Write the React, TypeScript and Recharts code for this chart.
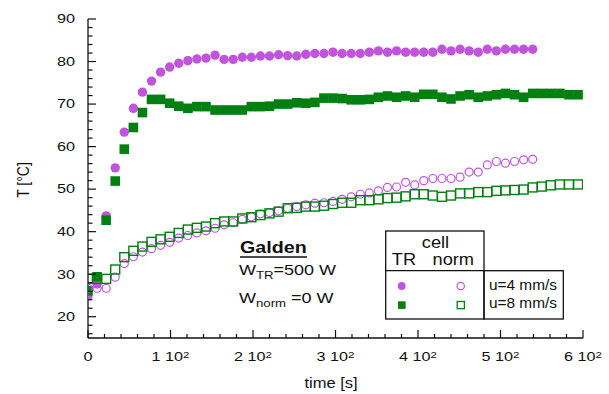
import React from "react";
import { ScatterChart, Scatter, XAxis, YAxis } from "recharts";

// sampling times [s]
const TIME_A = [
  0, 11, 22, 33, 44, 55, 66, 77, 88, 99, 110, 121, 132, 143, 154, 165, 176,
  187, 198, 209, 220, 231, 242, 253, 264, 275, 286, 297, 308, 319, 330, 341,
  352, 363, 374, 385, 396, 407, 418, 429, 440, 451, 462, 473, 484, 495, 506,
  517, 528, 539,
];
const TIME_B = [...TIME_A, 550, 561, 572, 583, 594];

// T [°C], cell TR
const TR_U4 = [
  24.9, 27.7, 43.7, 55.0, 63.4, 69.0, 72.8, 75.4, 77.5, 78.7,
  79.6, 80.2, 80.6, 80.8, 81.5, 80.5, 80.5, 81.0, 81.0, 81.3,
  81.3, 81.6, 81.4, 81.3, 81.7, 81.9, 81.9, 82.2, 81.9, 81.9,
  81.9, 82.2, 82.5, 82.2, 82.5, 82.2, 82.2, 82.2, 82.2, 82.9,
  82.5, 82.9, 82.5, 82.2, 82.9, 82.5, 82.9, 82.9, 82.9, 82.9,
];
const TR_U8 = [
  26.1, 29.4, 42.7, 51.9, 59.4, 64.5, 68.0, 71.1, 71.1, 70.2,
  69.5, 69.0, 69.4, 69.4, 68.6, 68.6, 68.6, 68.6, 69.4, 69.4,
  69.5, 70.0, 70.0, 70.3, 70.2, 70.4, 71.4, 71.4, 71.3, 71.0,
  71.0, 71.1, 71.6, 71.9, 71.6, 71.9, 71.6, 72.3, 72.3, 71.6,
  71.2, 71.9, 72.2, 71.6, 71.9, 72.2, 72.5, 72.2, 71.6, 72.5,
  72.5, 72.5, 72.5, 72.2, 72.2,
];
// T [°C], cell norm
const NORM_U4 = [
  26.7, 26.7, 26.7, 29.3, 32.5, 34.1, 35.2, 36.0, 36.8, 37.5,
  38.5, 39.1, 39.7, 40.2, 40.8, 41.6, 42.1, 42.9, 43.5, 44.2,
  44.5, 44.9, 45.5, 45.9, 46.3, 46.7, 46.8, 47.1, 47.6, 48.2,
  48.8, 49.1, 49.6, 50.4, 50.5, 51.6, 51.0, 52.0, 52.5, 52.5,
  52.5, 52.8, 54.0, 54.0, 55.7, 56.5, 56.1, 56.5, 56.9, 57.0,
];
const NORM_U8 = [
  28.9, 28.9, 28.9, 31.1, 34.0, 35.5, 36.5, 37.6, 38.2, 38.8,
  39.7, 40.5, 40.9, 41.2, 42.0, 42.4, 42.4, 43.1, 43.4, 43.9,
  44.3, 44.7, 45.5, 45.6, 45.9, 45.9, 46.1, 46.5, 46.8, 46.8,
  47.4, 47.4, 47.6, 47.9, 48.0, 48.3, 48.8, 48.8, 48.5, 48.2,
  48.5, 49.0, 49.0, 49.3, 49.3, 49.6, 49.7, 49.8, 49.9, 50.4,
  50.6, 50.9, 51.1, 51.1, 51.1,
];

const X_TICKS = [
  0, 20, 40, 60, 80, 100, 120, 140, 160, 180, 200, 220, 240, 260, 280, 300,
  320, 340, 360, 380, 400, 420, 440, 460, 480, 500, 520, 540, 560, 580, 600,
];
const Y_TICKS = [
  16, 18, 20, 22, 24, 26, 28, 30, 32, 34, 36, 38, 40, 42, 44, 46, 48, 50, 52,
  54, 56, 58, 60, 62, 64, 66, 68, 70, 72, 74, 76, 78, 80, 82, 84, 86, 88, 90,
];

const PURPLE = "#c054dc";
const GREEN = "#008010";
const FONT = "'Liberation Sans', Arial, Helvetica, sans-serif";
const SX = 1.35; // the original is stretched sideways

const rows = (ts: number[], vs: number[]) => vs.map((v, i) => ({ t: ts[i], T: v }));

const BottomTick = (p: any) => {
  const v = p.payload.value;
  const major = v % 100 === 0;
  return (
    <g>
      <line x1={p.x} x2={p.x} y1={p.y} y2={p.y - (major ? 8 : 4)} stroke="#111" strokeWidth={1.2} />
      {major && (
        <g transform={`translate(${p.x},${p.y + 23}) scale(${SX},1)`}>
          <text textAnchor="middle" fontFamily={FONT} fontSize={12} fill="#111">
            {v === 0 ? (
              "0"
            ) : (
              <>
                {`${v / 100} 10`}
                <tspan fontSize={8.5} dy={-3.5}>2</tspan>
              </>
            )}
          </text>
        </g>
      )}
    </g>
  );
};

const TopTick = (p: any) => {
  const major = p.payload.value % 100 === 0;
  return <line x1={p.x} x2={p.x} y1={p.y} y2={p.y + (major ? 8 : 4)} stroke="#111" strokeWidth={1.2} />;
};

const LeftTick = (p: any) => {
  const v = p.payload.value;
  const major = v % 10 === 0;
  return (
    <g>
      <line x1={p.x} x2={p.x + (major ? 8 : 4.5)} y1={p.y} y2={p.y} stroke="#111" strokeWidth={1.2} />
      {major && (
        <g transform={`translate(${p.x - 13},${p.y + 4.3}) scale(${SX},1)`}>
          <text textAnchor="end" fontFamily={FONT} fontSize={12} fill="#111">{v}</text>
        </g>
      )}
    </g>
  );
};

const RightTick = (p: any) => {
  const major = p.payload.value % 10 === 0;
  return <line x1={p.x} x2={p.x - (major ? 8 : 4.5)} y1={p.y} y2={p.y} stroke="#111" strokeWidth={1.2} />;
};

const FilledCircle = (p: any) => <circle cx={p.cx} cy={p.cy} r={4.7} fill={PURPLE} />;
const FilledSquare = (p: any) => <rect x={p.cx - 4.8} y={p.cy - 4.8} width={9.6} height={9.6} fill={GREEN} />;
const OpenCircle = (p: any) => (
  <circle cx={p.cx} cy={p.cy} r={4} fill="none" stroke={PURPLE} strokeWidth={1.2} />
);
const OpenSquare = (p: any) => (
  <rect x={p.cx - 4.5} y={p.cy - 4.5} width={9} height={9} fill="none" stroke={GREEN} strokeWidth={1.4} />
);

function Annotations() {
  const t = (x: number, y: number, s = 1.2) => `translate(${x},${y}) scale(${s},1)`;
  return (
    <svg
      width={609}
      height={394}
      style={{ position: "absolute", left: 0, top: 0, pointerEvents: "none" }}
      fontFamily={FONT}
      fill="#111"
    >
      {/* axis titles */}
      <g transform={`translate(29,180) scale(1.2,1) rotate(-90)`}>
        <text textAnchor="middle" fontSize={14}>T [°C]</text>
      </g>
      <g transform={t(331, 388, 1.18)}>
        <text textAnchor="middle" fontSize={14}>time [s]</text>
      </g>

      {/* conditions */}
      <g transform={t(240, 253, 1.23)}>
        <text fontSize={16} fontWeight="bold">Galden</text>
      </g>
      <line x1={240} x2={307} y1={257} y2={257} stroke="#111" strokeWidth={1.4} />
      <g transform={t(239, 274.5, 1.2)}>
        <text fontSize={15}>
          W<tspan fontSize={11} dy={4}>TR</tspan>
          <tspan dy={-4}>=500 W</tspan>
        </text>
      </g>
      <g transform={t(239, 302.5, 1.2)}>
        <text fontSize={15}>
          W<tspan fontSize={11} dy={4}>norm</tspan>
          <tspan dy={-4}> =0 W</tspan>
        </text>
      </g>

      {/* legend table */}
      <g fill="none" stroke="#111" strokeWidth={1.3}>
        <rect x={385.7} y={231} width={98.3} height={88} />
        <rect x={484} y={270.7} width={79.3} height={48.3} />
        <line x1={385.7} x2={484} y1={270.7} y2={270.7} />
      </g>
      <g transform={t(435.5, 247.7, 1.14)}>
        <text textAnchor="middle" fontSize={16}>cell</text>
      </g>
      <g transform={t(404, 265, 1.14)}>
        <text textAnchor="middle" fontSize={16}>TR</text>
      </g>
      <g transform={t(453.3, 265, 1.14)}>
        <text textAnchor="middle" fontSize={16}>norm</text>
      </g>
      <circle cx={401.7} cy={286} r={3.9} fill={PURPLE} />
      <circle cx={460.7} cy={286} r={3.7} fill="none" stroke={PURPLE} strokeWidth={1.2} />
      <rect x={398} y={301.3} width={7.6} height={7.6} fill={GREEN} />
      <rect x={457.2} y={301.5} width={7.2} height={7.2} fill="none" stroke={GREEN} strokeWidth={1.3} />
      <g transform={t(489, 290, 1.1)}>
        <text fontSize={14}>u=4 mm/s</text>
      </g>
      <g transform={t(489, 307.5, 1.1)}>
        <text fontSize={14}>u=8 mm/s</text>
      </g>
    </svg>
  );
}

export default function App() {
  const axisLine = { stroke: "#111", strokeWidth: 1.3 };
  return (
    <div style={{ position: "absolute", left: 0, top: 0, width: 609, height: 394, background: "#fff" }}>
      <ScatterChart width={609} height={394} margin={{ top: 19, right: 26, bottom: 0, left: 0 }}>
        <XAxis
          type="number"
          dataKey="t"
          domain={[0, 600]}
          ticks={X_TICKS}
          interval={0}
          height={56}
          tickSize={0}
          tickMargin={0}
          axisLine={axisLine}
          tickLine={false}
          tick={<BottomTick />}
          allowDataOverflow
        />
        <XAxis
          xAxisId="top"
          orientation="top"
          type="number"
          domain={[0, 600]}
          ticks={X_TICKS}
          interval={0}
          height={0}
          tickSize={0}
          tickMargin={0}
          axisLine={axisLine}
          tickLine={false}
          tick={<TopTick />}
        />
        <YAxis
          type="number"
          dataKey="T"
          domain={[15, 90]}
          ticks={Y_TICKS}
          interval={0}
          width={88}
          tickSize={0}
          tickMargin={0}
          axisLine={axisLine}
          tickLine={false}
          tick={<LeftTick />}
          allowDataOverflow
        />
        <YAxis
          yAxisId="right"
          orientation="right"
          type="number"
          domain={[15, 90]}
          ticks={Y_TICKS}
          interval={0}
          width={0}
          tickSize={0}
          tickMargin={0}
          axisLine={axisLine}
          tickLine={false}
          tick={<RightTick />}
        />
        <Scatter name="TR u=4" data={rows(TIME_A, TR_U4)} shape={FilledCircle} isAnimationActive={false} />
        <Scatter name="TR u=8" data={rows(TIME_B, TR_U8)} shape={FilledSquare} isAnimationActive={false} />
        <Scatter name="norm u=4" data={rows(TIME_A, NORM_U4)} shape={OpenCircle} isAnimationActive={false} />
        <Scatter name="norm u=8" data={rows(TIME_B, NORM_U8)} shape={OpenSquare} isAnimationActive={false} />
      </ScatterChart>
      <Annotations />
    </div>
  );
}
